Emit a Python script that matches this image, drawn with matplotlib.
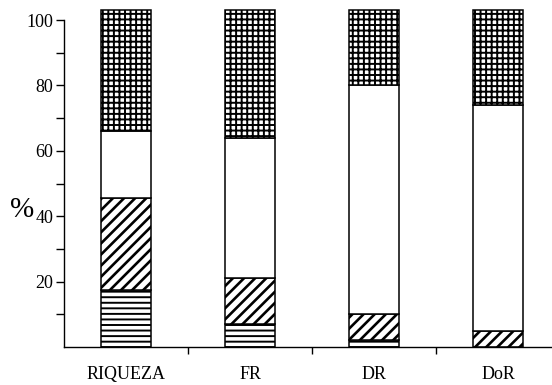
import matplotlib
matplotlib.use("Agg")
import matplotlib.pyplot as plt

plt.rcParams['font.family'] = ['Liberation Serif', 'DejaVu Serif']

categories = ["RIQUEZA", "FR", "DR", "DoR"]
# stacked segments (%), bottom to top
horiz = [17.5, 7.0, 2.0, 0.0]
diag = [28.0, 14.0, 8.0, 5.0]
white = [20.5, 43.0, 70.0, 69.0]
grid = [37.0, 39.0, 23.0, 29.0]

fig = plt.figure(figsize=(5.52, 3.85), dpi=100)
ax = fig.add_axes([0.116, 0.0987, 0.884, 0.883])

x = list(range(len(categories)))
w = 0.41
bottom = [0.0] * len(categories)
for vals, hatch, lw in [(horiz, '---', 1.4), (diag, '///', 1.9),
                        (white, '', 1.0), (grid, '+++', 1.4)]:
    bars = ax.bar(x, vals, w, bottom=bottom, color='white', edgecolor='black',
                  linewidth=1.1, hatch=hatch)
    for b in bars:
        try:
            b.set_hatch_linewidth(lw)
        except AttributeError:
            pass
    bottom = [b + v for b, v in zip(bottom, vals)]

ax.set_xlim(-0.5, 3.435)
ax.set_ylim(0, 104)
ax.spines['top'].set_visible(False)
ax.spines['right'].set_visible(False)
ax.spines['left'].set_bounds(0, 100)
ax.spines['left'].set_linewidth(1.0)
ax.spines['bottom'].set_linewidth(1.0)

ax.set_yticks([20, 40, 60, 80, 100])
ax.set_yticks([10, 30, 50, 70, 90], minor=True)
ax.tick_params(axis='y', which='both', direction='out', length=5.5, width=1.0,
               labelsize=13, pad=2)

ax.set_xticks(x)
ax.set_xticklabels(categories, fontsize=13)
ax.set_xticks([0.5, 1.5, 2.5], minor=True)
ax.tick_params(axis='x', which='major', length=0, pad=14)
ax.tick_params(axis='x', which='minor', direction='out', length=5, width=1.0)

fig.text(0.04, 0.455, "%", fontsize=21, ha='center', va='center')

fig.savefig("out.png", dpi=100)
